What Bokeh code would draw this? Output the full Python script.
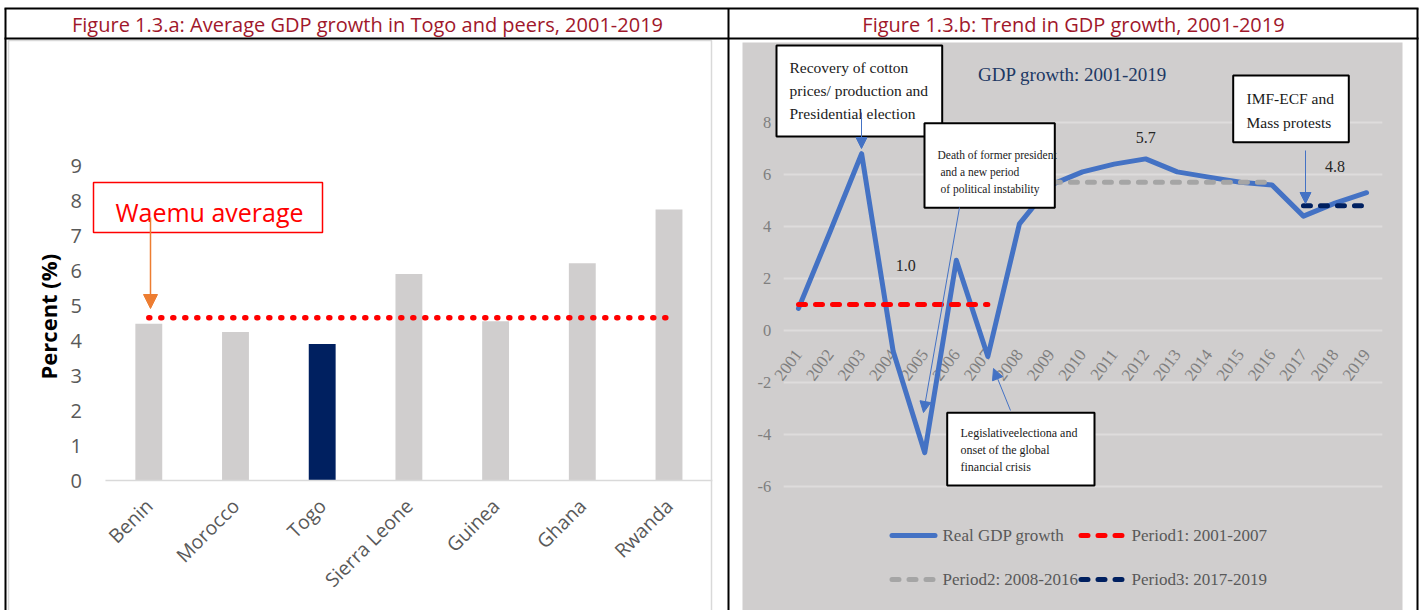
import math
from bokeh.plotting import figure
from bokeh.models import Range1d, Arrow, NormalHead
from bokeh.embed import file_html
from bokeh.resources import INLINE
from bokeh.core.properties import value

# ---- Figure 1.3.a: average GDP growth 2001-2019, Togo and peers ----
countries = ["Benin", "Morocco", "Togo", "Sierra Leone", "Guinea", "Ghana", "Rwanda"]
avg_growth = [4.48, 4.24, 3.90, 5.90, 4.55, 6.21, 7.74]
waemu_average = 4.65
pct_ticks = [0, 1, 2, 3, 4, 5, 6, 7, 8, 9]

# ---- Figure 1.3.b: Togo real GDP growth and period averages ----
years = list(range(2001, 2020))
real_gdp_growth = [0.85, 3.8, 6.8, -0.8, -4.7, 2.7, -1.0, 4.1, 5.6, 6.1,
                   6.4, 6.6, 6.1, 5.9, 5.7, 5.6, 4.4, 4.9, 5.3]
period_names = ["Period1: 2001-2007", "Period2: 2008-2016", "Period3: 2017-2019"]
period_first = [2001, 2008, 2017]
period_last = [2007, 2016, 2019]
period_mean = [1.0, 5.7, 4.8]
gdp_ticks = [-6, -4, -2, 0, 2, 4, 6, 8]

W, H = 1421, 610
SERIF = value("Liberation Serif")
SANS = value("Open Sans")
BLUE = "#4472C4"
period_colors = ["#FF0000", "#A5A5A5", "#002060"]

p = figure(width=W, height=H, x_range=Range1d(0, W), y_range=Range1d(H, 0),
           x_axis_type=None, y_axis_type=None, toolbar_location=None,
           output_backend="svg", min_border=0)
p.outline_line_color = None
p.background_fill_color = "white"
p.border_fill_color = "white"

# scales for the two charts (category index / percent, year / percent)
bar_x0, bar_dx = 148.3, 86.7
bar_y0, bar_dy = 480.0, 35.0
yr_x0, yr_dx = 798.0, 31.56
gdp_y0, gdp_dy = 330.0, 26.0
p.extra_x_ranges = {
    "cat": Range1d(-bar_x0 / bar_dx, (W - bar_x0) / bar_dx),
    "yr": Range1d(years[0] - yr_x0 / yr_dx, years[0] + (W - yr_x0) / yr_dx),
}
p.extra_y_ranges = {
    "pct": Range1d((bar_y0 - H) / bar_dy, bar_y0 / bar_dy),
    "gdp": Range1d((gdp_y0 - H) / gdp_dy, gdp_y0 / gdp_dy),
}
L = dict(x_range_name="cat", y_range_name="pct")
R = dict(x_range_name="yr", y_range_name="gdp")

# ---- page frame: two panels with a title row ----
p.quad(left=[8], right=[711], top=[40], bottom=[640], fill_color="white",
       line_color="#D9D9D9", line_width=1.5)
p.quad(left=[742], right=[1402], top=[42], bottom=[640], fill_color="#D0CECE",
       line_color=None)
p.segment(x0=[4, 4, 5, 728, 1417], x1=[1418, 1418, 5, 728, 1417],
          y0=[8, 38, 8, 8, 8], y1=[8, 38, 640, 640, 640],
          line_color="black", line_width=2)
p.text(x=[367, 1073], y=[24, 24],
       text=["Figure 1.3.a: Average GDP growth in Togo and peers, 2001-2019",
             "Figure 1.3.b: Trend in GDP growth, 2001-2019"],
       text_font=SANS, text_font_size="20px", text_color="#A0172B",
       text_align="center", text_baseline="middle")

# ---- left chart: bars ----
idx = list(range(len(countries)))
bar_colors = ["#002060" if c == "Togo" else "#D0CECE" for c in countries]
p.vbar(x=idx, top=avg_growth, bottom=0, width=0.31, fill_color=bar_colors,
       line_color=None, **L)
p.segment(x0=[idx[0] - 0.5], x1=[idx[-1] + 0.5], y0=[0], y1=[0],
          line_color="#D9D9D9", line_width=1.5, **L)
p.line(x=[idx[0], idx[-1]], y=[waemu_average, waemu_average], line_color="#FF0000",
       line_width=5.5, line_dash="1 11", line_cap="round", **L)

p.text(x=[-0.77] * len(pct_ticks), y=pct_ticks, text=[str(t) for t in pct_ticks],
       text_font=SANS, text_font_size="20px", text_color="#595959",
       text_align="right", text_baseline="middle", **L)
p.text(x=[-1.16], y=[4.68], text=["Percent (%)"], angle=math.pi / 2,
       text_font=SANS, text_font_size="22px", text_font_style="bold",
       text_color="black", text_align="center", text_baseline="middle", **L)
p.text(x=idx, y=[-0.62] * len(idx), text=countries, angle=math.pi / 4,
       text_font=SANS, text_font_size="19.5px", text_color="#595959",
       text_align="right", text_baseline="middle", **L)

# Waemu average call-out
p.quad(left=[93], right=[322], top=[182], bottom=[232], fill_color="white",
       line_color="#FF0000", line_width=1.5)
p.text(x=[209], y=[211], text=["Waemu average"], text_font=SANS,
       text_font_size="25px", text_color="#FF0000", text_align="center",
       text_baseline="middle")
p.add_layout(Arrow(x_start=150, y_start=217, x_end=150, y_end=308,
                   line_color="#ED7D31", line_width=1.5,
                   end=NormalHead(size=14, fill_color="#ED7D31", line_color="#ED7D31")))

# ---- right chart ----
n = len(gdp_ticks)
p.segment(x0=[years[0] - 0.47] * n, x1=[years[-1] + 0.5] * n, y0=gdp_ticks, y1=gdp_ticks,
          line_color="#DEDCDC", line_width=2, **R)
p.text(x=[years[0] - 0.86] * n, y=gdp_ticks, text=[str(t) for t in gdp_ticks],
       text_font=SERIF, text_font_size="16.5px", text_color="#7F7F7F",
       text_align="right", text_baseline="middle", **R)
p.text(x=years, y=[-0.8] * len(years), text=[str(y) for y in years], angle=0.93,
       text_font=SERIF, text_font_size="17px", text_color="#7F7F7F",
       text_align="right", text_baseline="middle", **R)

p.line(x=years, y=real_gdp_growth, line_color=BLUE, line_width=5,
       line_join="round", line_cap="round", **R)
for first, last, mean, col in zip(period_first, period_last, period_mean, period_colors):
    p.line(x=[first, last], y=[mean, mean], line_color=col, line_width=5,
           line_dash="7 10", line_cap="round", **R)

label_year = [2004.4, 2012.0, 2018.0]
label_lift = [1.5, 1.73, 1.5]
p.text(x=label_year, y=[m + d for m, d in zip(period_mean, label_lift)],
       text=[f"{m:.1f}" for m in period_mean], text_font=SERIF,
       text_font_size="16px", text_color="#262626", text_align="center",
       text_baseline="middle", **R)

p.text(x=[1072], y=[74], text=["GDP growth: 2001-2019"], text_font=SERIF,
       text_font_size="19px", text_color="#203864", text_align="center",
       text_baseline="middle")

# event call-outs
boxes = [
    (776, 941.7, 45, 136),
    (924, 1054.3, 122.7, 207.3),
    (1232.7, 1348.3, 75, 141.7),
    (946.7, 1094, 412.3, 485),
]
p.quad(left=[b[0] for b in boxes], right=[b[1] for b in boxes],
       top=[b[2] for b in boxes], bottom=[b[3] for b in boxes],
       fill_color="white", line_color="black", line_width=2)

def note(x, ys, lines, size):
    p.text(x=x, y=ys, text=lines, text_font=SERIF, text_font_size=size,
           text_color="#1A1A1A", text_align="left", text_baseline="middle")

note([789, 789, 789], [66.7, 90, 112.7],
     ["Recovery of cotton", "prices/ production and", "Presidential election"], "15.5px")
note([937, 940, 940], [154.3, 171, 188.3],
     ["Death of former president", "and a new period", "of political instability"], "11.5px")
note([1246, 1246], [98.3, 121.7], ["IMF-ECF and", "Mass protests"], "15.5px")
note([960, 960, 960], [432.7, 449.3, 466.7],
     ["Legislativeelectiona and", "onset of the global", "financial crisis"], "12px")

for xs, ys, xe, ye in [(861, 112, 861, 148), (959, 207, 923, 412),
                       (1305, 150, 1305, 203), (1010, 410, 993, 368)]:
    p.add_layout(Arrow(x_start=xs, y_start=ys, x_end=xe, y_end=ye,
                       line_color=BLUE, line_width=1,
                       end=NormalHead(size=11, fill_color=BLUE, line_color=BLUE)))

# legend
legend_names = ["Real GDP growth"] + period_names
legend_colors = [BLUE] + period_colors
legend_x = [889, 1078, 889, 1078]
legend_y = [535, 535, 579, 579]
for name, col, lx, ly in zip(legend_names, legend_colors, legend_x, legend_y):
    if col == BLUE:
        p.line(x=[lx + 2.5, lx + 45.5], y=[ly, ly], line_color=col, line_width=5,
               line_cap="round")
    else:
        p.line(x=[lx + 2.5, lx + 45.5], y=[ly, ly], line_color=col, line_width=5,
               line_cap="round", line_dash="7 10")
    p.text(x=[lx + 53], y=[ly], text=[name], text_font=SERIF, text_font_size="17px",
           text_color="#595959", text_align="left", text_baseline="middle")

open("out.html", "w").write(file_html(p, INLINE))
